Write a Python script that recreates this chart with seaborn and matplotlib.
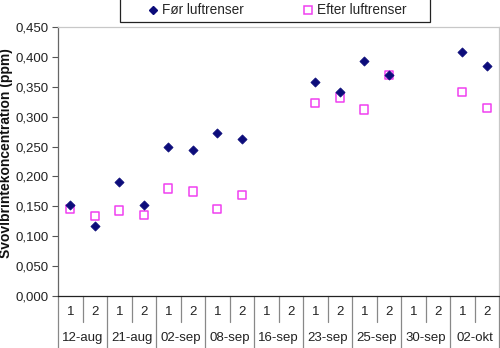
import numpy as np
import pandas as pd
import matplotlib
matplotlib.use("Agg")
import matplotlib.pyplot as plt
import matplotlib.transforms as mtransforms
from matplotlib.patches import Rectangle
from matplotlib.lines import Line2D
import seaborn as sns

dates = ["12-aug", "21-aug", "02-sep", "08-sep", "16-sep", "23-sep", "25-sep", "30-sep", "02-okt"]
sub_labels = ["1", "2"]
foer = [0.153, 0.117, 0.190, 0.153, 0.250, 0.245, 0.273, 0.263, np.nan, np.nan,
        0.358, 0.342, 0.393, 0.370, np.nan, np.nan, 0.408, 0.385]
efter = [0.146, 0.134, 0.143, 0.136, 0.180, 0.175, 0.146, 0.169, np.nan, np.nan,
         0.323, 0.332, 0.312, 0.370, np.nan, np.nan, 0.341, 0.315]
series_names = ["Før luftrenser", "Efter luftrenser"]
y_ticks = [0.0, 0.05, 0.10, 0.15, 0.20, 0.25, 0.30, 0.35, 0.40, 0.45]
y_label = "Svovlbrintekoncentration (ppm)"

sns.set_theme(style="white")
plt.rcParams["font.family"] = ["Liberation Sans", "DejaVu Sans"]

n = len(dates) * len(sub_labels)
pos = np.arange(n)
df = pd.DataFrame({
    "pos": np.concatenate([pos, pos]),
    "value": np.concatenate([foer, efter]),
    "series": [series_names[0]] * n + [series_names[1]] * n,
})

fig = plt.figure(figsize=(5.0, 3.48), dpi=100)
ax = fig.add_axes([58 / 500, 1 - 296 / 348, (499 - 58) / 500, (296 - 27) / 348])

navy = "#0c0c7a"
mag = "#f040f0"
d1 = df[df.series == series_names[0]]
d2 = df[df.series == series_names[1]]
sns.scatterplot(data=d2, x="pos", y="value", marker="s", s=36, ax=ax, legend=False, zorder=2)
sq = ax.collections[-1]
sq.set_facecolor("none")
sq.set_edgecolor(mag)
sq.set_linewidth(1.1)
sns.scatterplot(data=d1, x="pos", y="value", marker="D", s=22, color=navy, edgecolor=navy,
                linewidth=0.5, ax=ax, legend=False, zorder=3)

ax.set_xlim(-0.5, n - 0.5)
ax.set_ylim(0, 0.45)
ax.set_yticks(y_ticks)
ax.set_yticklabels([f"{v:.3f}".replace(".", ",") for v in y_ticks], fontsize=9.5, color="#222222")
ax.tick_params(axis="y", which="both", left=True, length=4, width=0.8, color="#555555", pad=3)
ax.set_xticks(pos)
ax.set_xticklabels(sub_labels * len(dates), fontsize=9.5, color="#222222")
ax.tick_params(axis="x", length=0, pad=7)
ax.set_xlabel("")
ax.set_ylabel(y_label, fontsize=10, fontweight="bold", color="#111111")
ax.yaxis.set_label_coords(-(58 - 13) / 441, 0.53)
for s in ["top", "right"]:
    ax.spines[s].set_color("#c8c8c8")
    ax.spines[s].set_linewidth(0.9)
ax.spines["left"].set_color("#666666")
ax.spines["left"].set_linewidth(0.9)
ax.spines["bottom"].set_color("#222222")
ax.spines["bottom"].set_linewidth(0.9)

trans = mtransforms.blended_transform_factory(ax.transData, ax.transAxes)
h = 269.0
short = -26 / h
full = -52 / h
for i in range(n + 1):
    xb = i - 0.5
    ybot = full if i % 2 == 0 else short
    ax.add_line(Line2D([xb, xb], [0, ybot], transform=trans, color="#888888", lw=0.9, clip_on=False))
for g, d in enumerate(dates):
    ax.text(2 * g + 0.5, -42 / h, d, transform=trans, ha="center", va="center",
            fontsize=9.5, color="#222222")

# legend
fig.patches.append(Rectangle((120 / 500, 1 - 21.5 / 348), 310 / 500, 30 / 348, transform=fig.transFigure,
                             facecolor="white", edgecolor="#222222", lw=0.9))
handles = [Line2D([], [], marker="D", linestyle="", markersize=4.5, color=navy),
           Line2D([], [], marker="s", linestyle="", markersize=5.5, markerfacecolor="none",
                  markeredgecolor=mag, markeredgewidth=1.1)]
fig.legend(handles, series_names, loc="center", bbox_to_anchor=(277 / 500, 1 - 10.5 / 348), ncol=2,
           frameon=False, fontsize=9.8, handlelength=0.8, handletextpad=0.3, columnspacing=4.3,
           borderpad=0)

fig.savefig("out.png", dpi=100)
